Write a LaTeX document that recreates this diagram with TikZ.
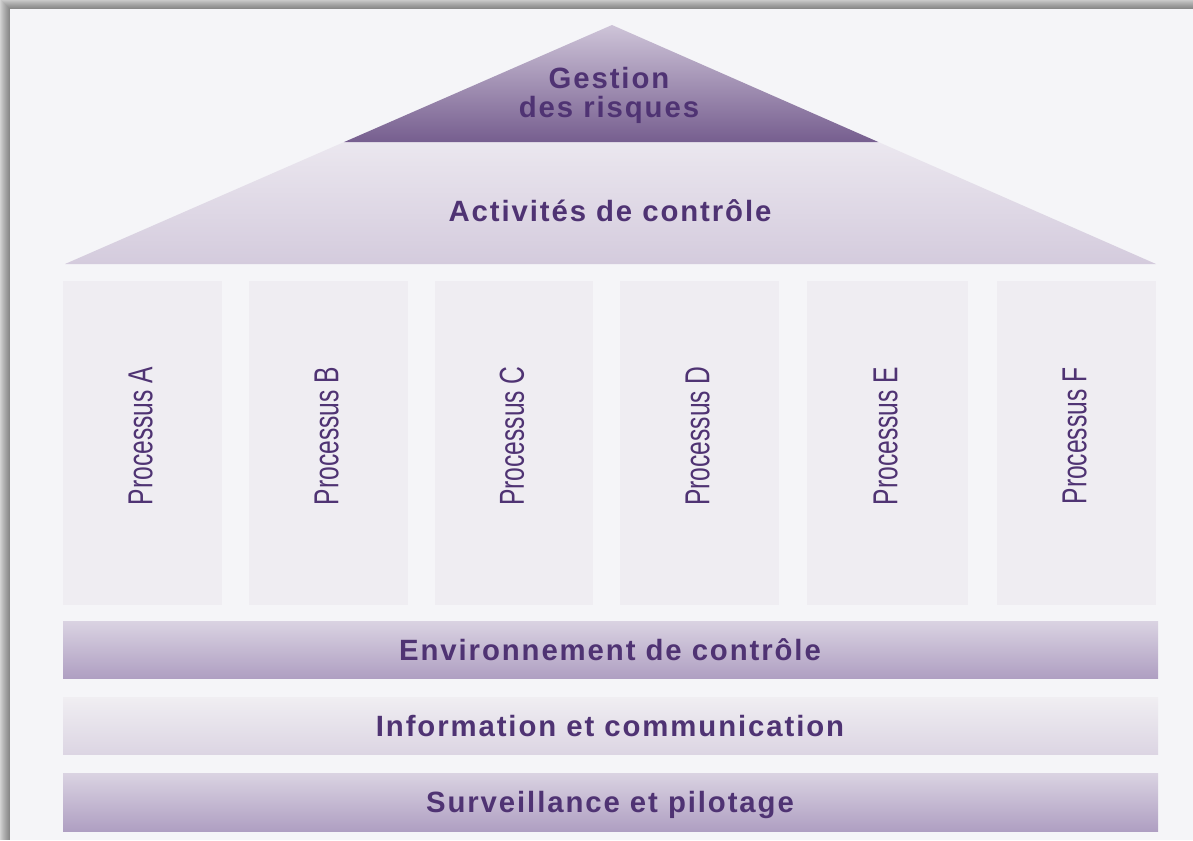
\documentclass[tikz,border=0pt]{standalone}
\usepackage{fontspec}
\setmainfont{Liberation Sans}
\newfontfamily\titlefont{Liberation Sans Bold}[LetterSpace=6.5]
\definecolor{panel}{HTML}{F5F5F8}
\definecolor{ink}{HTML}{4F3373}
\definecolor{roofTop}{HTML}{CEC4D8}
\definecolor{roofBot}{HTML}{765E8F}
\definecolor{eaveTop}{HTML}{EBE7EF}
\definecolor{eaveBot}{HTML}{D4CBDD}
\definecolor{pillar}{HTML}{EFEDF2}
\definecolor{barTop}{HTML}{DAD3E2}
\definecolor{barBot}{HTML}{AF9FC2}
\definecolor{infoTop}{HTML}{F0EEF2}
\definecolor{infoBot}{HTML}{DCD5E3}
\tikzset{
  heading/.style={text=ink, inner sep=0pt, anchor=base, font=\titlefont\fontsize{22pt}{25pt}\selectfont},
  proclabel/.style={text=ink, inner sep=0pt, rotate=90, font=\fontsize{26pt}{30pt}\selectfont},
  pillarfill/.style={fill=pillar},
  darkbar/.style={top color=barTop, bottom color=barBot},
  lightbar/.style={top color=infoTop, bottom color=infoBot},
}
\begin{document}
\begin{tikzpicture}[x=0.75pt, y=-0.75pt]
  % page background and the drop shadow around the panel
  \fill[gray!35] (0,0) rectangle (1193,840);
  \useasboundingbox (0,0) rectangle (1193,840);
  \foreach \d in {9,8,...,1}
    \fill[black, opacity=0.045] (10-\d,9-\d) rectangle (1193,840);
  \fill[panel] (10,9) rectangle (1193,840);

  % roof: lower band (eaves) and upper triangle
  \shade[top color=eaveTop, bottom color=eaveBot]
    (344.2,142) -- (878.3,142) -- (1156,264) -- (65,264) -- cycle;
  \shade[top color=roofTop, bottom color=roofBot]
    (612,25) -- (878.3,142) -- (344.2,142) -- cycle;
  \node[heading] (risk1) at (609,88) {Gestion};
  \node[heading] (risk2) at (609,117) {des risques};
  \node[heading] (activities) at (610,221) {Activités de contrôle};

  % pillars
  \foreach \l/\r/\n in {63/222/A, 249/408/B, 435/593/C, 620/779/D, 807/968/E, 997/1156/F}{
    \fill[pillarfill] (\l,281) rectangle (\r,605);
    \node[proclabel] (proc\n) at ({(\l+\r)/2-2},436) {\scalebox{0.71}[1]{Processus \n}};
  }

  % foundation bars
  \shade[darkbar] (63,621) rectangle (1158,678);
  \node[heading] (environment) at (610,660) {Environnement de contrôle};
  \shade[lightbar] (63,697) rectangle (1158,754);
  \node[heading] (information) at (610,736) {Information et communication};
  \shade[darkbar] (63,773) rectangle (1158,831);
  \node[heading] (monitoring) at (610,812) {Surveillance et pilotage};
\end{tikzpicture}
\end{document}
